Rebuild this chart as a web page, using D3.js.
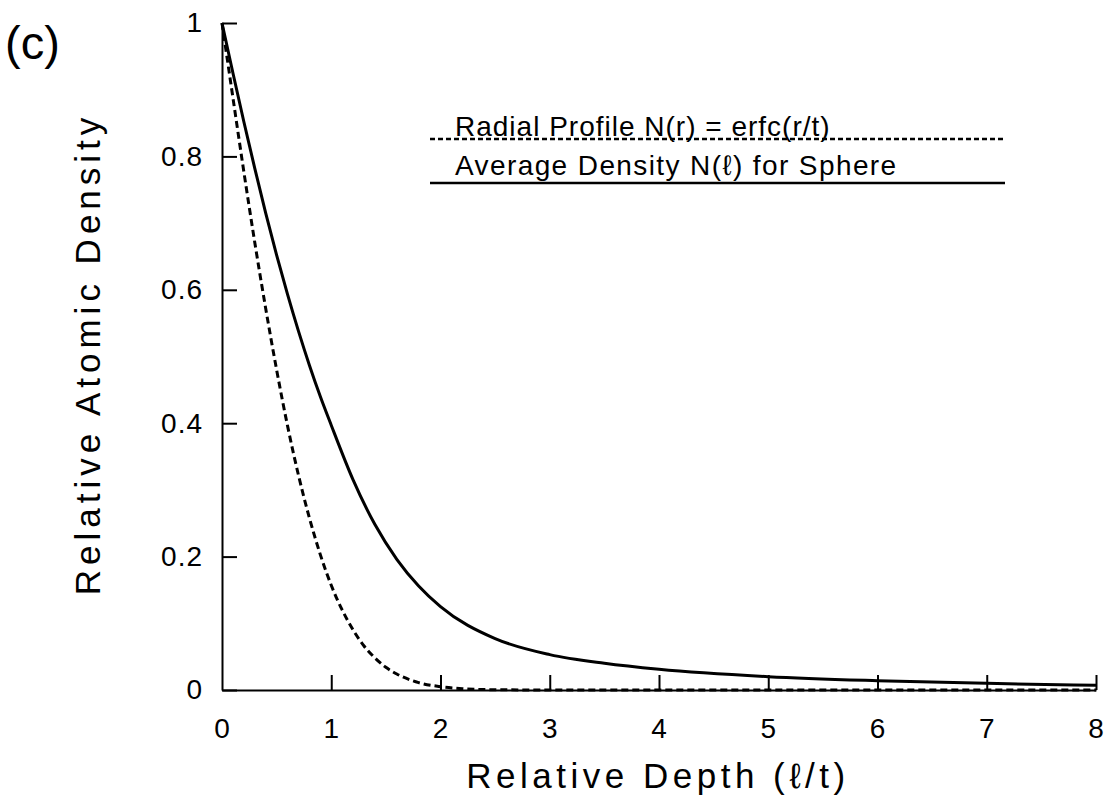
<!DOCTYPE html>
<html>
<head>
<meta charset="utf-8">
<script src="https://cdn.jsdelivr.net/npm/d3@7"></script>
<style>
  body { margin: 0; background: #fff; }
  text { font-family: 'Liberation Sans', Arial, sans-serif; fill: #000; }
</style>
</head>
<body>
<div id="chart"></div>
<script>
// values
const radialDepth = [0, 0.1, 0.2, 0.3, 0.4, 0.5, 0.6, 0.7, 0.8, 0.9, 1.0, 1.1, 1.2, 1.3, 1.4, 1.5, 1.6, 1.8, 2.0, 2.2, 2.5, 3, 4, 5, 6, 7, 8];
const radial = [1.0, 0.888, 0.777, 0.671, 0.572, 0.480, 0.396, 0.322, 0.258, 0.203, 0.157, 0.120, 0.090, 0.066, 0.048, 0.034, 0.024, 0.011, 0.005, 0.002, 0.0004, 0, 0, 0, 0, 0, 0];
const avgDepth = [0, 0.1, 0.2, 0.3, 0.4, 0.5, 0.6, 0.7, 0.8, 0.9, 1.0, 1.2, 1.4, 1.6, 1.8, 2.0, 2.5, 3, 3.5, 4, 5, 6, 7, 8];
const average = [1.0, 0.925, 0.852, 0.782, 0.715, 0.652, 0.593, 0.538, 0.487, 0.440, 0.397, 0.315, 0.248, 0.196, 0.156, 0.125, 0.077, 0.053, 0.040, 0.031, 0.020, 0.014, 0.010, 0.007];
const xticks = [0, 1, 2, 3, 4, 5, 6, 7, 8];
const yticks = [0, 0.2, 0.4, 0.6, 0.8, 1];
const legendLabels = ['Radial Profile N(r) = erfc(r/t)', 'Average Density N(\u2113) for Sphere'];

let width = 1107, height = 800;

let margin = {
  top: 23,
  bottom: 110,
  left: 222,
  right: 11
};

let svg = d3.select('#chart')
  .append('svg')
  .attr('width', width)
  .attr('height', height);

svg.append('rect')
  .attr('width', width)
  .attr('height', height)
  .attr('fill', '#fff');

let xscale = d3.scaleLinear()
  .domain([0, 8])
  .range([margin.left, width - margin.right]);

let yscale = d3.scaleLinear()
  .domain([0, 1])
  .range([height - margin.bottom, margin.top]);

// axes, ticks point inward
let xaxis = svg.append('g')
  .attr('transform', `translate(0,${height - margin.bottom})`)
  .call(d3.axisBottom(xscale).tickValues(xticks).tickFormat(d3.format('d'))
    .tickSizeInner(-15).tickSizeOuter(0).tickPadding(28));

let yaxis = svg.append('g')
  .attr('transform', `translate(${margin.left},0)`)
  .call(d3.axisLeft(yscale).tickValues(yticks).tickFormat(d => d === 0 || d === 1 ? d3.format('d')(d) : d3.format('.1f')(d))
    .tickSizeInner(-15).tickSizeOuter(0).tickPadding(19));

[xaxis, yaxis].forEach(function(a) {
  a.select('.domain').attr('stroke', '#000').attr('stroke-width', 2);
  a.selectAll('.tick line').attr('stroke', '#000').attr('stroke-width', 2);
  a.selectAll('.tick text')
    .style('font-size', '28px')
    .style('letter-spacing', '1px')
    .style('font-family', "'Liberation Sans', Arial, sans-serif")
    .attr('fill', '#000');
});
xaxis.selectAll('.tick').filter(d => d === 0).select('line').remove();

// curves
const series = [
  { x: radialDepth, values: radial, dash: '7,4', width: 3 },
  { x: avgDepth, values: average, dash: null, width: 3 }
];

const line = d3.line()
  .x(d => xscale(d[0]))
  .y(d => yscale(d[1]))
  .curve(d3.curveMonotoneX);

series.forEach(function(s) {
  svg.append('path')
    .datum(s.x.map((x, i) => [x, s.values[i]]))
    .attr('fill', 'none')
    .attr('stroke', '#000')
    .attr('stroke-width', s.width)
    .attr('stroke-dasharray', s.dash)
    .attr('d', line);
});

// legend: label above its line sample
legendLabels.forEach(function(label, i) {
  let y0 = 136 + i * 39;
  svg.append('text')
    .attr('x', 455)
    .attr('y', y0)
    .style('font-size', '28px')
    .style('letter-spacing', i === 0 ? '1px' : '1.4px')
    .text(label);
  svg.append('line')
    .attr('x1', 430)
    .attr('x2', 1005)
    .attr('y1', y0 + 3 + i * 5)
    .attr('y2', y0 + 3 + i * 5)
    .attr('stroke', '#000')
    .attr('stroke-width', 2.5)
    .attr('stroke-dasharray', i === 0 ? '5,3' : null);
});

// axis titles
svg.append('text')
  .attr('x', 658)
  .attr('y', 788)
  .attr('text-anchor', 'middle')
  .style('font-size', '35px')
  .style('letter-spacing', '4.5px')
  .text('Relative Depth (\u2113/t)');

svg.append('text')
  .attr('x', -354)
  .attr('y', 100)
  .attr('transform', 'rotate(-90)')
  .attr('text-anchor', 'middle')
  .style('font-size', '35px')
  .style('letter-spacing', '5px')
  .text('Relative Atomic Density');

svg.append('text')
  .attr('x', 5)
  .attr('y', 59)
  .style('font-size', '47px')
  .style('font-weight', '300')
  .text('(c)');
</script>
</body>
</html>
